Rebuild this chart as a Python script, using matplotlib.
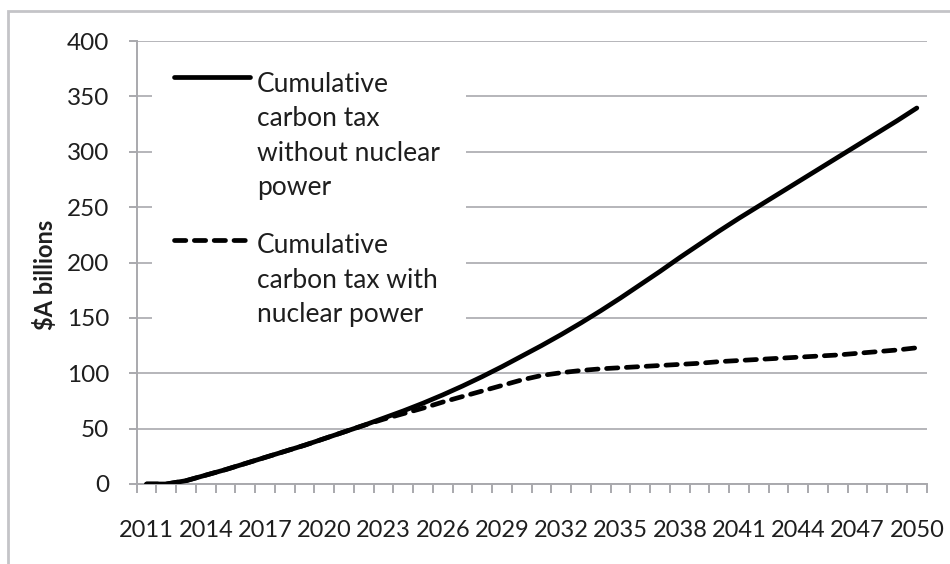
import matplotlib
matplotlib.use("Agg")
import matplotlib.pyplot as plt
from matplotlib.patches import Rectangle
from matplotlib.lines import Line2D

# ---------------- data ----------------
years = list(range(2011, 2051))
without_nuclear = [0, 0, 3, 8, 13, 18.5, 24, 29.5, 35, 41,
                   47, 53, 59.5, 66, 73, 80.5, 88.5, 97, 106, 115.5,
                   125, 135, 145.5, 156.5, 168, 180, 192, 204.5, 216.5, 228.5,
                   240, 251, 262, 273, 284, 295, 306, 317, 328, 339.5]
with_nuclear = [0, 0, 3, 8, 13, 18.5, 24, 29.5, 35, 41,
                47, 53, 58.5, 63.5, 68.5, 74, 79, 84, 89, 94,
                98, 100.5, 102.5, 104, 105, 106, 107, 108, 109, 110.5,
                111.5, 112.5, 113.5, 114.5, 115.5, 116.5, 118, 119.5, 121, 123]
y_ticks = [0, 50, 100, 150, 200, 250, 300, 350, 400]
x_label_years = list(range(2011, 2051, 3))
legend_labels = ["Cumulative\ncarbon tax\nwithout nuclear\npower",
                 "Cumulative\ncarbon tax with\nnuclear power"]
y_label = r"\$A billions"

# ---------------- style ----------------
W, H = 950, 564
FONT = ["Lato", "DejaVu Sans"]
plt.rcParams["font.family"] = FONT
GRID = "#b6b6ba"
AXC = "#a9a9ad"
TXT = "#1e1e1e"

fig = plt.figure(figsize=(W / 100, H / 100), dpi=100)
fig.patch.set_facecolor("white")

# outer chart border (Excel chart area)
fig.patches.append(Rectangle((8 / W, -0.05), 1.2, 1.05 - 11 / H,
                             transform=fig.transFigure, fill=False,
                             edgecolor="#c4c4c8", linewidth=2.0))

ax_l, ax_r, ax_t, ax_b = 136.7, 926.7, 41.0, 484.0
ax = fig.add_axes([ax_l / W, 1 - ax_b / H, (ax_r - ax_l) / W, (ax_b - ax_t) / H])
ax.set_facecolor("white")

dash = (0, (2.4, 1.8))
ax.plot(years, without_nuclear, color="black", lw=3.4,
        solid_capstyle="round", solid_joinstyle="round", zorder=3)
ax.plot(years, with_nuclear, color="black", lw=3.4, linestyle=dash,
        dash_capstyle="round", zorder=3)

ax.set_xlim(2010.5, 2050.5)
ax.set_ylim(0, 400)

ax.set_yticks(y_ticks)
ax.set_yticklabels([str(v) for v in y_ticks])
ax.set_xticks(x_label_years)
ax.set_xticklabels([str(v) for v in x_label_years])
ax.set_xticks([y - 0.5 for y in years] + [years[-1] + 0.5], minor=True)

ax.tick_params(axis="y", which="major", direction="out", length=8 * 0.72,
               width=1.4, color=AXC, pad=14, labelsize=17.5, labelcolor=TXT)
ax.tick_params(axis="x", which="major", length=0, pad=26,
               labelsize=17, labelcolor=TXT)
ax.tick_params(axis="x", which="minor", direction="out", length=9 * 0.72,
               width=1.4, color=AXC)

for s in ("top", "right"):
    ax.spines[s].set_visible(False)
for s in ("left", "bottom"):
    ax.spines[s].set_color(AXC)
    ax.spines[s].set_linewidth(1.4)

ax.set_axisbelow(True)
ax.yaxis.grid(True, color=GRID, linewidth=1.4)
ax.xaxis.grid(False)

# ---------------- legend (Excel style, inside plot) ----------------
def ax_x(px):
    return (px - ax_l) / (ax_r - ax_l)

def ax_y(py):
    return (ax_b - py) / (ax_b - ax_t)

ax.add_patch(Rectangle((ax_x(152), ax_y(372)), ax_x(466) - ax_x(152),
                       ax_y(44) - ax_y(372), transform=ax.transAxes,
                       facecolor="white", edgecolor="none", zorder=1.5))

handle_rows = [77, 240]
text_rows = [92, 253]
pitch = 34.5
styles = [dict(linestyle="-", solid_capstyle="round"),
          dict(linestyle=dash, dash_capstyle="round")]
for label, hy, ty, st in zip(legend_labels, handle_rows, text_rows, styles):
    ax.add_line(Line2D([ax_x(174), ax_x(250)], [ax_y(hy), ax_y(hy)],
                       transform=ax.transAxes, color="black", lw=3.4,
                       zorder=4, **st))
    for i, line in enumerate(label.split("\n")):
        ax.text(ax_x(257), ax_y(ty + i * pitch), line, transform=ax.transAxes,
                ha="left", va="baseline", fontsize=19, color=TXT, zorder=4)

fig.text(45 / W, 1 - 275 / H, y_label, rotation=90, ha="center", va="center",
         fontsize=17, fontweight="bold", color=TXT)

fig.savefig("out.png", dpi=100, facecolor="white")
